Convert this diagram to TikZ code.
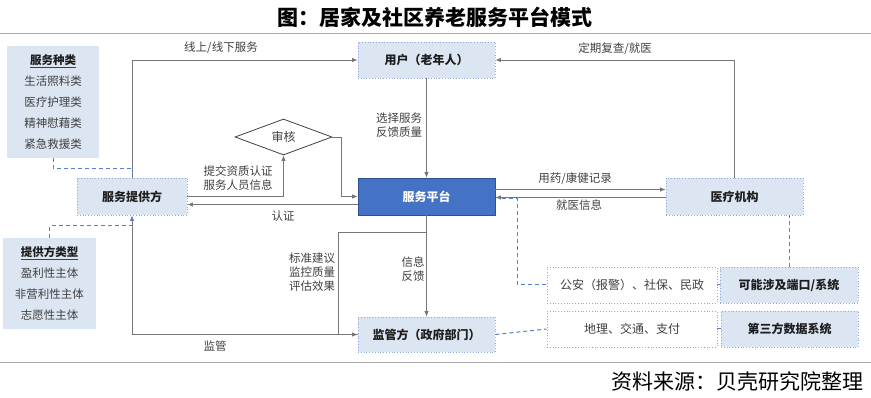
\documentclass[tikz,border=0pt]{standalone}
\usepackage{fontspec}
\setmainfont{Noto Sans CJK SC}
\usepackage{xcolor}
\usepackage{tikz}
\usetikzlibrary{arrows.meta,shapes.geometric,positioning,calc}
\definecolor{textGray}{RGB}{64,64,64}
\definecolor{textDark}{RGB}{30,30,30}
\definecolor{lineGray}{RGB}{118,118,118}
\definecolor{sepGray}{RGB}{170,170,170}
\definecolor{boxBlue}{RGB}{220,230,242}
\definecolor{borderBlue}{RGB}{143,170,220}
\definecolor{linkBlue}{RGB}{86,126,210}
\definecolor{platBlue}{RGB}{68,114,196}
\definecolor{platDark}{RGB}{47,82,143}
\tikzset{
  softbox/.style={
    rectangle, draw=borderBlue, dotted, line width=0.8pt, fill=boxBlue,
    inner sep=0pt, text=textDark, font=\bfseries\fontsize{12}{14}\selectfont
  },
  plainbox/.style={
    rectangle, draw=borderBlue, dotted, line width=0.8pt, fill=white,
    inner sep=0pt, text=textGray, font=\fontsize{12}{14}\selectfont
  },
  listbox/.style={
    rectangle, fill=boxBlue, inner sep=0pt, align=center,
    text=textGray, font=\fontsize{11.5}{21}\selectfont
  },
  sepline/.style={draw=sepGray, line width=0.9pt}
}

\begin{document}
\begin{tikzpicture}[x=1pt, y=-1pt,
        lbl/.style={font=\fontsize{11.5}{14}\selectfont, text=textGray,
                    inner sep=0pt, align=center},
        conn/.style={->, >={Latex[length=5.5pt,width=4.5pt]}, draw=lineGray, line width=0.8pt},
        link/.style={draw=linkBlue, dash pattern=on 4pt off 3pt, line width=1pt}]
        \useasboundingbox (0,0) rectangle (871,398);
        % title and rules
        \node[font=\bfseries\fontsize{21}{24}\selectfont, text=black] (title) at (435,17)
              {图：居家及社区养老服务平台模式};
        \draw[sepline] (0,33) -- (871,33);
        \draw[sepline] (0,362) -- (871,362);
        \node[anchor=east, font=\fontsize{21}{24}\selectfont, text=black] (src) at (867,381)
              {资料来源：贝壳研究院整理};
        % main boxes
        \node[softbox, minimum width=137pt, minimum height=36pt] (user) at (426.5,60) {用户（老年人）};
        \node[softbox, draw=platDark, solid, fill=platBlue, text=white,
              minimum width=137pt, minimum height=37pt] (plat) at (426.5,196.5) {服务平台};
        \node[softbox, minimum width=110pt, minimum height=37pt] (prov) at (132,196.5) {服务提供方};
        \node[softbox, minimum width=137pt, minimum height=37pt] (med) at (734.5,196.5) {医疗机构};
        \node[softbox, minimum width=137pt, minimum height=35pt] (gov) at (426.5,334.5) {监管方（政府部门）};
        \node[diamond, draw=textGray, line width=0.8pt, aspect=2.7, inner sep=0pt,
              minimum width=97pt, minimum height=36pt, text=textGray,
              font=\fontsize{12}{14}\selectfont] (audit) at (283.5,137) {审核};
        % side lists
        \node[listbox, minimum width=92pt, minimum height=112pt] (kinds) at (53,102)
              {\underline{\textbf{\color{textDark}服务种类}}\\生活照料类\\医疗护理类\\精神慰藉类\\紧急救援类};
        \node[listbox, minimum width=93pt, minimum height=91pt] (types) at (49.5,283.5)
              {\underline{\textbf{\color{textDark}提供方类型}}\\盈利性主体\\非营利性主体\\志愿性主体};
        % systems
        \node[plainbox, minimum width=170pt, minimum height=36pt] (police) at (632,285) {公安（报警）、社保、民政};
        \node[softbox, minimum width=138pt, minimum height=36pt] (sys1) at (789,285) {可能涉及端口/系统};
        \node[plainbox, minimum width=170pt, minimum height=36pt] (geo) at (632,329) {地理、交通、支付};
        \node[softbox, minimum width=137pt, minimum height=36pt] (sys2) at (789.5,329) {第三方数据系统};
        % connectors
        \draw[conn] (prov.north) |- (user.west);
        \draw[conn] (med.north) |- (user.east);
        \draw[conn] (user.south) -- (plat.north);
        \draw[conn] (prov.east) -| (audit.south);
        \draw[conn] (audit.east) -- ++(9,0) |- (plat.west);
        \draw[conn] ([yshift=-8pt]plat.west) -- ([yshift=-8pt]prov.east);
        \draw[conn] ([yshift=7pt]plat.east) -- ([yshift=7pt]med.west);
        \draw[conn] ([yshift=-1pt]med.west) -- ([yshift=-1pt]plat.east);
        \draw[conn] (plat.south) -- (gov.north);
        \coordinate (split) at ($(plat.south)+(0,17)$);
        \draw[conn] (split) -- ++(-88.5,0) |- (gov.west);
        \draw[conn] (gov.west) -| (prov.south);
        % dashed links
        \draw[link] (kinds.south) -- ++(0,10) -| (prov.north);
        \draw[link] (types.north) -- ++(0,-12) -| (prov.south);
        \draw[link] ([xshift=7pt,yshift=-2pt]plat.east) -- ++(15,0) |- (police.west);
        \draw[link] (sys1.north) -- (sys1.north |- med.south);
        \draw[link] (police.east) -- (sys1.west);
        \draw[link] (gov.east) -- (geo.west);
        \draw[link] (geo.east) -- (sys2.west);
        % labels
        \node[lbl] (lOnline) at (221,48) {线上/线下服务};
        \node[lbl] (lCheck) at (615,49) {定期复查/就医};
        \node[lbl] (lChoose) at (399,125) {选择服务\\反馈质量};
        \node[lbl] (lSubmit) at (238,178.5) {提交资质认证\\服务人员信息};
        \node[lbl] (lCert) at (283,216) {认证};
        \node[lbl] (lRecord) at (575,179) {用药/康健记录};
        \node[lbl] (lVisit) at (579,205) {就医信息};
        \node[lbl] (lInfo) at (413,269) {信息\\反馈};
        \node[lbl] (lStd) at (312,272) {标准建议\\监控质量\\评估效果};
        \node[lbl] (lSuper) at (215,346) {监管};
      \end{tikzpicture}
\end{document}
